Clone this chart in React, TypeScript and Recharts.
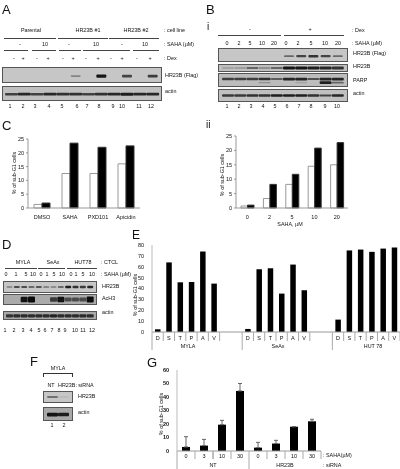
import React from "react";
import { BarChart, Bar, XAxis, YAxis, ErrorBar } from "recharts";

const FONT = "'Liberation Sans', Arial, sans-serif";

// Panel C
const cCategories = ["DMSO", "SAHA", "PXD101", "Apicidin"];
const cWhite = [1.3, 12.5, 12.5, 16];
const cBlack = [1.8, 23.5, 22, 22.5];
const cTicks = [0, 5, 10, 15, 20, 25];

// Panel B ii
const biiCategories = ["0", "2", "5", "10", "20"];
const biiWhite = [0.7, 3.3, 8.2, 14.5, 15];
const biiBlack = [1, 8.2, 11.7, 20.8, 22.7];

// Panel E
const eLabels = ["D", "S", "T", "P", "A", "V", "", "", "D", "S", "T", "P", "A", "V", "", "", "D", "S", "T", "P", "A", "V"];
const eValues = [2.5, 64, 45.7, 46, 74, 44.5, null, null, 2.8, 57.7, 58.6, 35.3, 62, 38.4, null, null, 11.4, 75, 75.8, 73.7, 76.7, 77.7];
const eTicks = [0, 10, 20, 30, 40, 50, 60, 70, 80];

// Panel G
const gLabels = ["0", "3", "10", "30", "0", "3", "10", "30"];
const gValues = [3, 4, 19.5, 44.5, 2.5, 5.5, 18, 22];
const gErrors = [7.6, 4.6, 3.2, 5.5, 3.9, 2.4, 0, 1.5];
const gTicks = [0, 10, 20, 30, 40, 50, 60];

// Blot band strengths per lane
const aFlag = [0, 0, 0, 0, 0, 0.35, 0, 0.95, 0, 0.7, 0, 0.75];
const aActin = [0.7, 0.85, 0.7, 0.85, 0.8, 0.8, 0.7, 0.8, 0.85, 0.9, 0.85, 0.85];
const bFlag = [0, 0, 0, 0, 0, 0.5, 0.7, 0.8, 0.7, 0.5];
const bHr23b = [0.2, 0.25, 0.5, 0.35, 0.5, 0.95, 0.95, 0.9, 0.85, 0.8];
const bParpUpper = [0.7, 0.7, 0.7, 0.8, 0.55, 0.85, 0.85, 0.6, 0.85, 0.85];
const bParpLower = [0, 0, 0, 0.25, 0, 0, 0.15, 0, 0.9, 0.5];
const bActin = [0.75, 0.75, 0.8, 0.8, 0.9, 0.9, 0.9, 0.8, 0.7, 0.85];
const dHr23b = [0.4, 0.65, 0.65, 0.5, 0.6, 0.45, 0.4, 0.5, 0.9, 0.8, 0.75, 0.85];
const dAch3 = [0, 0, 0.95, 1, 0, 0, 0.7, 0.95, 0.6, 0.6, 0.6, 1];
const dActin = [0.75, 0.8, 0.8, 0.8, 0.8, 0.8, 0.85, 0.8, 0.8, 0.8, 0.8, 0.8];
const fHr23b = [0.6, 0.1];
const fActin = [0.95, 0.9];

const axisTick = { fontSize: 5.5, fill: "#111", fontFamily: FONT };

function Text({ x, y, children, size = 5.4, anchor = "c", rotate = false, weight = 400 }: any) {
  const tx = anchor === "c" ? "-50%" : "0";
  return (
    <span
      style={{
        position: "absolute",
        left: x,
        top: y,
        fontFamily: FONT,
        fontSize: size,
        fontWeight: weight,
        lineHeight: 1,
        color: "#111",
        whiteSpace: "nowrap",
        transform: rotate ? "translate(-50%,-50%) rotate(-90deg)" : `translate(${tx},-50%)`,
      }}
    >
      {children}
    </span>
  );
}

function Row({ labels, xs, y }: { labels: string[]; xs: number[]; y: number }) {
  return (
    <>
      {labels.map((l, i) => (
        <Text key={i} x={xs[i]} y={y}>
          {l}
        </Text>
      ))}
    </>
  );
}

function Rule({ x1, x2, y, h = 1, color = "#444" }: any) {
  return <div style={{ position: "absolute", left: x1, top: y, width: x2 - x1, height: h, background: color }} />;
}

function Blot({ x, y, w, h, rows, pos, thick = 4, pad = 2, bg = "#c6c6c6", inset = 1.5 }: any) {
  const data = rows[0].map((_: number, i: number) => {
    const o: any = { lane: String(i) };
    rows.forEach((r: number[], j: number) => (o["r" + j] = r[i]));
    return o;
  });
  return (
    <div
      style={{
        position: "absolute",
        left: x,
        top: y,
        width: w,
        height: h,
        boxSizing: "border-box",
        border: "1px solid #555",
        background: bg,
        overflow: "hidden",
      }}
    >
      <div style={{ filter: "blur(0.7px)" }}>
        <BarChart
          width={w - 2}
          height={h - 2}
          data={data}
          margin={{ top: 0, right: pad, bottom: 0, left: pad }}
          barCategoryGap={0}
        >
          <XAxis dataKey="lane" hide />
          <YAxis hide domain={[0, 1]} />
          {rows.map((_: number[], j: number) => (
            <Bar
              key={j}
              dataKey={"r" + j}
              stackId="a"
              isAnimationActive={false}
              shape={(p: any) => {
                const v = p.payload["r" + j];
                if (!v) return <g />;
                const t = 0.8 + thick * v;
                return (
                  <rect
                    x={p.x + inset}
                    width={p.width - inset * 2}
                    y={(h - 2) * pos[j] - t / 2}
                    height={t}
                    rx={1}
                    fill="#0c0c0c"
                    fillOpacity={Math.min(1, v)}
                  />
                );
              }}
            />
          ))}
        </BarChart>
      </div>
    </div>
  );
}

function Pair({ x, y, w, h, yw, xh, cats, white, black, ticks, barSize }: any) {
  const data = cats.map((c: string, i: number) => ({ c, white: white[i], black: black[i] }));
  return (
    <div style={{ position: "absolute", left: x, top: y }}>
      <BarChart
        width={w}
        height={h}
        data={data}
        margin={{ top: 4, right: 1, bottom: 0, left: 0 }}
        barGap={0}
        barSize={barSize}
      >
        <XAxis
          dataKey="c"
          interval={0}
          height={xh}
          axisLine={{ stroke: "#999" }}
          tickLine={false}
          tick={axisTick}
          tickMargin={1}
        />
        <YAxis
          width={yw}
          domain={[0, ticks[ticks.length - 1]]}
          ticks={ticks}
          interval={0}
          axisLine={{ stroke: "#999" }}
          tickLine={{ stroke: "#999" }}
          tickSize={2}
          tick={axisTick}
        />
        <Bar dataKey="white" fill="#fff" stroke="#999" isAnimationActive={false} />
        <Bar dataKey="black" fill="#000" stroke="#333" isAnimationActive={false} />
      </BarChart>
    </div>
  );
}

// tick with the box lines drawn at the category edges
function EdgeTick({ x, payload, index, step, axisY, lastIndex, longAt, shortLen, longLen, labelDy }: any) {
  const text = payload.value;
  const left = x - step / 2;
  const right = x + step / 2;
  return (
    <g>
      {text !== "" && (
        <line x1={left} x2={left} y1={axisY} y2={axisY + (longAt.includes(index) ? longLen : shortLen)} stroke="#aaa" />
      )}
      {(index === lastIndex || (text !== "" && longAt.includes(index + 3))) && (
        <line x1={right} x2={right} y1={axisY} y2={axisY + shortLen} stroke="#aaa" />
      )}
      {text !== "" && (
        <text x={x} y={axisY + labelDy} textAnchor="middle" fontSize={5.5} fill="#111" fontFamily={FONT}>
          {text}
        </text>
      )}
    </g>
  );
}

const eData = eLabels.map((label, i) => ({ label, value: eValues[i] }));
const gData = gLabels.map((label, i) => ({ label, value: gValues[i], err: [0, gErrors[i]] }));

export default function App() {
  return (
    <div
      style={{
        position: "absolute",
        left: 0,
        top: 0,
        width: 400,
        height: 469,
        overflow: "hidden",
        background: "#fff",
        filter: "blur(0.3px)",
      }}
    >
      {/* A */}
      <Text x={2} y={9} size={13} anchor="l">A</Text>
      <Row labels={["Parental", "HR23B #1", "HR23B #2"]} xs={[31, 88, 136]} y={31} />
      <Text x={164} y={31} anchor="l">: cell line</Text>
      <Rule x1={4} x2={56} y={37.5} />
      <Rule x1={58} x2={108} y={37.5} />
      <Rule x1={109} x2={159} y={37.5} />
      <Row labels={["-", "10", "-", "10", "-", "10"]} xs={[20, 45, 69, 96, 122, 145]} y={45} />
      <Text x={164} y={45} anchor="l">: SAHA (µM)</Text>
      <Rule x1={4} x2={28} y={50} />
      <Rule x1={32} x2={56} y={50} />
      <Rule x1={59} x2={81} y={50} />
      <Rule x1={83} x2={108} y={50} />
      <Rule x1={108} x2={130} y={50} />
      <Rule x1={133} x2={159} y={50} />
      <Row
        labels={["-", "+", "-", "+", "-", "+", "-", "+", "-", "+", "-", "+"]}
        xs={[14, 23, 37, 48, 63, 73, 86, 98, 111, 122, 137, 150]}
        y={59}
      />
      <Text x={164} y={59} anchor="l">: Dex</Text>
      <Blot x={2} y={67} w={160} h={16} rows={[aFlag]} pos={[0.58]} thick={2.5} />
      <Blot x={2} y={86} w={160} h={15} rows={[aActin]} pos={[0.55]} thick={2.5} inset={0} bg="#c0c0c0" />
      <Text x={165} y={76} anchor="l">HR23B (Flag)</Text>
      <Text x={165} y={92} anchor="l">actin</Text>
      <Row
        labels={["1", "2", "3", "4", "5", "6", "7", "8", "9", "10", "11", "12"]}
        xs={[10, 23, 35, 49, 62, 77, 87, 99, 113, 122, 139, 151]}
        y={107}
      />

      {/* B i */}
      <Text x={206} y={9} size={13} anchor="l">B</Text>
      <Text x={207} y={27} size={10} anchor="l">i</Text>
      <Row labels={["-", "+"]} xs={[250, 310]} y={30} />
      <Text x={352} y={31} anchor="l">: Dex</Text>
      <Rule x1={218} x2={281} y={35} />
      <Rule x1={284} x2={344} y={35} />
      <Row
        labels={["0", "2", "5", "10", "20", "0", "2", "5", "10", "20"]}
        xs={[227, 239, 250, 262, 274, 286, 298, 311, 325, 338]}
        y={44}
      />
      <Text x={352} y={44} anchor="l">: SAHA (µM)</Text>
      <Blot x={218} y={48} w={130} h={14} rows={[bFlag]} pos={[0.6]} thick={2} pad={3} inset={1} />
      <Blot x={218} y={64} w={130} h={8} rows={[bHr23b]} pos={[0.5]} thick={2.5} pad={3} inset={0} bg="#c0c0c0" />
      <Blot x={218} y={73} w={130} h={14} rows={[bParpUpper, bParpLower]} pos={[0.42, 0.72]} thick={2.2} pad={3} inset={0} bg="#bcbcbc" />
      <Blot x={218} y={89} w={130} h={13} rows={[bActin]} pos={[0.5]} thick={2} pad={3} inset={0} bg="#c0c0c0" />
      <Text x={353} y={54} anchor="l">HR23B (Flag)</Text>
      <Text x={353} y={67} anchor="l">HR23B</Text>
      <Text x={353} y={81} anchor="l">PARP</Text>
      <Text x={353} y={94} anchor="l">actin</Text>
      <Row
        labels={["1", "2", "3", "4", "5", "6", "7", "8", "9", "10"]}
        xs={[227, 239, 251, 263, 275, 287, 299, 311, 325, 337]}
        y={107}
      />

      {/* C */}
      <Text x={2} y={125} size={13} anchor="l">C</Text>
      <Text x={15} y={173} rotate>% of sub-G1 cells</Text>
      <Pair x={8} y={135} w={133} h={88} yw={20} xh={15} cats={cCategories} white={cWhite} black={cBlack} ticks={cTicks} barSize={8} />

      {/* B ii */}
      <Text x={206} y={125} size={10} anchor="l">ii</Text>
      <Text x={223} y={175} rotate>% of sub-G1 cells</Text>
      <Pair x={216} y={132} w={133} h={91} yw={20} xh={15} cats={biiCategories} white={biiWhite} black={biiBlack} ticks={cTicks} barSize={6.5} />
      <Text x={290} y={225}>SAHA, µM</Text>

      {/* D */}
      <Text x={2} y={244} size={13} anchor="l">D</Text>
      <Row labels={["MYLA", "SeAx", "HUT78"]} xs={[23, 53, 83]} y={263} />
      <Text x={101} y={263} anchor="l">: CTCL</Text>
      <Rule x1={5} x2={37} y={268} />
      <Rule x1={38} x2={65} y={268} />
      <Rule x1={67} x2={97} y={268} />
      <Row
        labels={["0", "1", "5", "10", "0", "1", "5", "10", "0", "1", "5", "10"]}
        xs={[6, 16, 26, 33, 41, 47, 54, 62, 71, 76, 83, 92]}
        y={275}
      />
      <Text x={101} y={275} anchor="l">: SAHA (µM)</Text>
      <Blot x={3} y={281} w={94} h={12} rows={[dHr23b]} pos={[0.5]} thick={2} inset={0.5} />
      <Blot x={3} y={294} w={94} h={11} rows={[dAch3]} pos={[0.5]} thick={5} inset={0} bg="#ababab" />
      <Blot x={3} y={311} w={94} h={9} rows={[dActin]} pos={[0.55]} thick={3} inset={0} bg="#a8a8a8" />
      <Text x={102} y={287} anchor="l">HR23B</Text>
      <Text x={102} y={299} anchor="l">AcH3</Text>
      <Text x={102} y={313} anchor="l">actin</Text>
      <Row
        labels={["1", "2", "3", "4", "5", "6", "7", "8", "9", "10", "11", "12"]}
        xs={[5, 14, 23, 31, 39, 45, 52, 59, 65, 75, 83, 92]}
        y={331}
      />

      {/* E */}
      <Text x={132} y={235} size={12} anchor="l">E</Text>
      <Text x={136} y={295} rotate>% of sub-G1 cells</Text>
      <div style={{ position: "absolute", left: 130, top: 241 }}>
        <BarChart
          width={270}
          height={111}
          data={eData}
          margin={{ top: 4, right: 0, bottom: 0, left: 0 }}
          barSize={5.5}
        >
          <XAxis
            dataKey="label"
            interval={0}
            height={20}
            axisLine={{ stroke: "#999" }}
            tickLine={false}
            tick={(p: any) => (
              <EdgeTick {...p} step={248 / 22} axisY={91} lastIndex={21} longAt={[0, 8, 16]} shortLen={9} longLen={18} labelDy={8} />
            )}
          />
          <YAxis
            width={22}
            domain={[0, 80]}
            ticks={eTicks}
            interval={0}
            axisLine={{ stroke: "#bbb" }}
            tickLine={false}
            tickMargin={2}
            tick={axisTick}
          />
          <Bar dataKey="value" fill="#000" isAnimationActive={false} />
        </BarChart>
      </div>
      <Row labels={["MYLA", "SeAx", "HUT 78"]} xs={[188, 278, 373]} y={347} />

      {/* F */}
      <Text x={30} y={361} size={13} anchor="l">F</Text>
      <Text x={58} y={369}>MYLA</Text>
      <div style={{ position: "absolute", left: 43, top: 373, width: 28, height: 3, borderTop: "1px solid #333", borderLeft: "1px solid #333", borderRight: "1px solid #333" }} />
      <Text x={51} y={386}>NT</Text>
      <Text x={58} y={386} anchor="l">HR23B: siRNA</Text>
      <Blot x={43} y={391} w={30} h={12} rows={[fHr23b]} pos={[0.5]} thick={1.2} pad={3} inset={0} />
      <Blot x={43} y={407} w={30} h={14} rows={[fActin]} pos={[0.55]} thick={3} pad={3} inset={0} bg="#a8a8a8" />
      <Text x={78} y={397} anchor="l">HR23B</Text>
      <Text x={78} y={413} anchor="l">actin</Text>
      <Row labels={["1", "2"]} xs={[52, 64]} y={426} />

      {/* G */}
      <Text x={147} y={362} size={13} anchor="l">G</Text>
      <Text x={162} y={414} rotate>% of sub-G1 cells</Text>
      <div style={{ position: "absolute", left: 155, top: 366 }}>
        <BarChart
          width={167}
          height={103}
          data={gData}
          margin={{ top: 4, right: 1, bottom: 0, left: 0 }}
          barSize={8}
        >
          <XAxis
            dataKey="label"
            interval={0}
            height={18}
            axisLine={{ stroke: "#999" }}
            tickLine={false}
            tick={(p: any) => (
              <EdgeTick {...p} step={18} axisY={85} lastIndex={7} longAt={[0, 4]} shortLen={8} longLen={18} labelDy={7} />
            )}
          />
          <YAxis
            width={22}
            domain={[0, 60]}
            ticks={gTicks}
            interval={0}
            axisLine={{ stroke: "#bbb" }}
            tickLine={false}
            tickMargin={2}
            tick={{ ...axisTick, fontWeight: 700 }}
          />
          <Bar dataKey="value" fill="#000" isAnimationActive={false}>
            <ErrorBar dataKey="err" direction="y" width={2} stroke="#666" strokeWidth={1} isAnimationActive={false} />
          </Bar>
        </BarChart>
      </div>
      <Text x={323} y={456} anchor="l">: SAHA(µM)</Text>
      <Row labels={["NT", "HR23B"]} xs={[213, 285]} y={466} />
      <Text x={323} y={466} anchor="l">: siRNA</Text>
    </div>
  );
}
